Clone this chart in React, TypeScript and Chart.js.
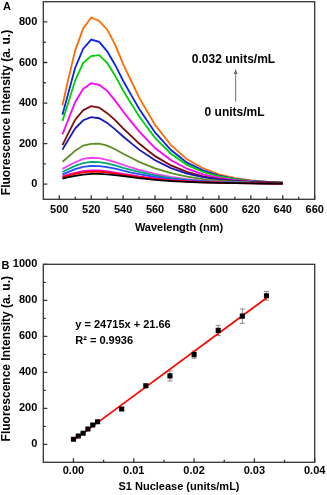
import React, { useEffect, useRef } from 'react';
import { Chart, registerables } from 'chart.js';

Chart.register(...registerables);

const FONT = "'Liberation Sans', Arial, Helvetica, sans-serif";

// ---------- Panel A: emission spectra ----------
const WAVELENGTH = [502, 505, 510, 515, 520, 525, 530, 535, 540, 545, 550, 560, 570, 580, 590, 600, 610, 620, 630, 640];
const SPEC_0 = [27, 33, 41, 47, 50, 50, 48, 44, 39, 34, 29, 21, 15, 11, 8, 6, 5, 4, 3, 3];
const SPEC_1 = [34, 40, 50, 58, 62, 61, 58, 52, 46, 40, 34, 25, 18, 13, 10, 7, 5, 4, 3, 3];
const SPEC_2 = [38, 45, 56, 64, 68, 67, 63, 57, 50, 44, 38, 28, 20, 15, 11, 8, 6, 5, 4, 3];
const SPEC_3 = [48, 58, 74, 85, 90, 89, 84, 76, 66, 57, 49, 35, 25, 18, 13, 9, 7, 5, 4, 3];
const SPEC_4 = [60, 72, 90, 104, 110, 108, 102, 92, 80, 70, 60, 43, 30, 21, 15, 11, 8, 6, 5, 4];
const SPEC_5 = [75, 88, 108, 124, 130, 128, 120, 108, 95, 82, 70, 50, 35, 25, 17, 12, 9, 6, 5, 4];
const SPEC_6 = [110, 130, 165, 190, 198, 200, 190, 172, 150, 130, 110, 78, 54, 37, 25, 17, 12, 8, 6, 5];
const SPEC_7 = [170, 210, 275, 315, 330, 325, 302, 270, 235, 202, 170, 118, 79, 52, 34, 22, 15, 10, 7, 5];
const SPEC_8 = [192, 240, 318, 365, 385, 378, 350, 316, 275, 238, 200, 138, 92, 60, 38, 25, 16, 11, 8, 6];
const SPEC_9 = [245, 305, 405, 470, 498, 490, 460, 412, 358, 308, 260, 178, 118, 76, 48, 31, 20, 13, 9, 6];
const SPEC_10 = [312, 385, 512, 598, 632, 636, 598, 535, 462, 398, 335, 228, 150, 95, 60, 38, 24, 15, 10, 7];
const SPEC_11 = [342, 430, 575, 668, 713, 702, 655, 588, 510, 440, 372, 255, 168, 106, 68, 42, 26, 16, 11, 7];
const SPEC_12 = [388, 495, 660, 768, 822, 805, 762, 688, 592, 510, 428, 292, 192, 122, 78, 48, 30, 18, 12, 8];
const SPECTRA = [SPEC_0, SPEC_1, SPEC_2, SPEC_3, SPEC_4, SPEC_5, SPEC_6, SPEC_7, SPEC_8, SPEC_9, SPEC_10, SPEC_11, SPEC_12];
const SPECTRA_COLORS = [
  '#000000', '#FF0000', '#FF00CC', '#2050FF', '#00A878', '#F040F0', '#5C8E22',
  '#1818B8', '#7A0A0A', '#FF00FF', '#00D000', '#0A24F0', '#FF6A00',
];

const A_X_LABELS = [500, 520, 540, 560, 580, 600, 620, 640, 660];
const A_X_MINOR = [510, 530, 550, 570, 590, 610, 630, 650];
const A_Y_LABELS = [0, 200, 400, 600, 800];
const A_Y_MINOR = [100, 300, 500, 700];

// ---------- Panel B: calibration ----------
const CONC = [0, 0.0008, 0.0016, 0.0024, 0.0032, 0.004, 0.008, 0.012, 0.016, 0.02, 0.024, 0.028, 0.032];
const INTENSITY = [28, 46, 61, 85, 107, 125, 196, 325, 380, 498, 633, 712, 825];
const INTENSITY_ERR = [4, 4, 4, 5, 5, 5, 7, 10, 28, 20, 28, 40, 24];
const FIT_X = [0, 0.032];
const FIT_Y = [21.66, 812.54];

const B_X_LABELS = [0, 0.01, 0.02, 0.03, 0.04];
const B_X_MINOR = [0.005, 0.015, 0.025, 0.035];
const B_Y_LABELS = [0, 200, 400, 600, 800, 1000];
const B_Y_MINOR = [100, 300, 500, 700, 900];

function drawFrameAndTicks(ctx: any, chart: any, xMajor: number[], xMinor: number[], yMajor: number[], yMinor: number[]) {
  const a = chart.chartArea;
  const xs = chart.scales.x;
  const ys = chart.scales.y;
  ctx.save();
  ctx.strokeStyle = '#333333';
  ctx.lineWidth = 1.3;
  ctx.beginPath();
  const tick = (vals: number[], len: number) => {
    vals.forEach((v) => {
      const px = xs.getPixelForValue(v);
      ctx.moveTo(px, a.bottom);
      ctx.lineTo(px, a.bottom - len);
    });
  };
  const ytick = (vals: number[], len: number) => {
    vals.forEach((v) => {
      const py = ys.getPixelForValue(v);
      ctx.moveTo(a.left, py);
      ctx.lineTo(a.left + len, py);
    });
  };
  tick(xMajor, 4);
  tick(xMinor, 2.5);
  ytick(yMajor, 4);
  ytick(yMinor, 2.5);
  ctx.stroke();
  ctx.strokeRect(a.left, a.top, a.right - a.left, a.bottom - a.top);
  ctx.restore();
}

function drawText(ctx: any, text: string, x: number, y: number, size: number, align: string = 'left', rot = 0) {
  ctx.save();
  ctx.fillStyle = '#000';
  ctx.font = `bold ${size}px ${FONT}`;
  ctx.textAlign = align;
  ctx.textBaseline = 'middle';
  ctx.translate(x, y);
  if (rot) ctx.rotate(rot);
  ctx.fillText(text, 0, 0);
  ctx.restore();
}

const panelAPlugin = {
  id: 'panelA',
  afterDraw(chart: any) {
    const { ctx } = chart;
    const xs = chart.scales.x;
    const ys = chart.scales.y;
    drawFrameAndTicks(ctx, chart, A_X_LABELS, A_X_MINOR, A_Y_LABELS, A_Y_MINOR);
    drawText(ctx, 'A', 7, 6.5, 11, 'center');
    drawText(ctx, 'Fluorescence Intensity (a. u.)', 7, 112.5, 12, 'center', -Math.PI / 2);
    drawText(ctx, '0.032 units/mL', xs.getPixelForValue(583), ys.getPixelForValue(612), 12);
    drawText(ctx, '0 units/mL', xs.getPixelForValue(591), ys.getPixelForValue(350), 12);
    // arrow
    const ax = xs.getPixelForValue(610.5);
    const y0 = ys.getPixelForValue(407);
    const y1 = ys.getPixelForValue(568);
    ctx.save();
    ctx.strokeStyle = '#707070';
    ctx.fillStyle = '#707070';
    ctx.lineWidth = 1;
    ctx.beginPath();
    ctx.moveTo(ax, y0);
    ctx.lineTo(ax, y1 + 4);
    ctx.stroke();
    ctx.beginPath();
    ctx.moveTo(ax, y1);
    ctx.lineTo(ax - 2, y1 + 5);
    ctx.lineTo(ax + 2, y1 + 5);
    ctx.closePath();
    ctx.fill();
    ctx.restore();
  },
};

const panelBPlugin = {
  id: 'panelB',
  beforeDatasetsDraw(chart: any) {
    const { ctx } = chart;
    const xs = chart.scales.x;
    const ys = chart.scales.y;
    ctx.save();
    ctx.strokeStyle = '#8a8a8a';
    ctx.lineWidth = 1;
    ctx.beginPath();
    CONC.forEach((c, i) => {
      const px = xs.getPixelForValue(c);
      const top = ys.getPixelForValue(INTENSITY[i] + INTENSITY_ERR[i]);
      const bot = ys.getPixelForValue(INTENSITY[i] - INTENSITY_ERR[i]);
      ctx.moveTo(px, top);
      ctx.lineTo(px, bot);
      ctx.moveTo(px - 2.5, top);
      ctx.lineTo(px + 2.5, top);
      ctx.moveTo(px - 2.5, bot);
      ctx.lineTo(px + 2.5, bot);
    });
    ctx.stroke();
    ctx.restore();
  },
  afterDraw(chart: any) {
    const { ctx } = chart;
    const xs = chart.scales.x;
    const ys = chart.scales.y;
    drawFrameAndTicks(ctx, chart, B_X_LABELS, B_X_MINOR, B_Y_LABELS, B_Y_MINOR);
    drawText(ctx, 'B', 5.5, 16, 11, 'center');
    drawText(ctx, 'Fluorescence Intensity (a. u.)', 7, 108.7, 12, 'center', -Math.PI / 2);
    drawText(ctx, 'y = 24715x + 21.66', xs.getPixelForValue(0.0003), ys.getPixelForValue(661), 11);
    drawText(ctx, 'R² = 0.9936', xs.getPixelForValue(0.0003), ys.getPixelForValue(574), 11);
  },
};

const tickFont = { family: FONT, size: 11, weight: 'bold' as const };
const titleFont = { family: FONT, size: 11, weight: 'bold' as const };

function fitY(width: number) {
  return (s: any) => {
    s.width = width;
    s.paddingTop = 0;
    s.paddingBottom = 0;
  };
}
function fitX(height: number) {
  return (s: any) => {
    s.height = height;
    s.paddingLeft = 0;
    s.paddingRight = 0;
  };
}

function PanelA() {
  const ref = useRef<HTMLCanvasElement>(null);
  useEffect(() => {
    const chart = new Chart(ref.current as HTMLCanvasElement, {
      type: 'line',
      data: {
        datasets: SPECTRA.map((s, i) => ({
          label: `c${i}`,
          data: WAVELENGTH.map((w, j) => ({ x: w, y: s[j] })),
          borderColor: SPECTRA_COLORS[i],
          borderWidth: 1.8,
          pointRadius: 0,
          tension: 0,
          fill: false,
        })),
      },
      options: {
        animation: false,
        responsive: false,
        layout: { padding: { left: 0, top: 1.7, right: 12.3, bottom: 0 } },
        plugins: { legend: { display: false }, tooltip: { enabled: false } },
        scales: {
          x: {
            type: 'linear',
            min: 490,
            max: 660,
            grid: { display: false, drawTicks: false },
            border: { display: false },
            afterBuildTicks: (s: any) => { s.ticks = A_X_LABELS.map((value) => ({ value })); },
            afterFit: fitX(50.7),
            ticks: { autoSkip: false, maxRotation: 0, padding: 4.1, color: '#000', font: tickFont, callback: (v: any) => String(v) },
            title: { display: true, text: 'Wavelength (nm)', color: '#000', font: titleFont, padding: { top: 0, bottom: 15.7 } },
          },
          y: {
            type: 'linear',
            min: -75,
            max: 900,
            grid: { display: false, drawTicks: false },
            border: { display: false },
            afterBuildTicks: (s: any) => { s.ticks = A_Y_LABELS.map((value) => ({ value })); },
            afterFit: fitY(43.3),
            ticks: { autoSkip: false, padding: 6, color: '#000', font: tickFont, callback: (v: any) => String(v) },
          },
        },
      },
      plugins: [panelAPlugin],
    } as any);
    return () => chart.destroy();
  }, []);
  return <canvas ref={ref} width={327} height={250} style={{ display: 'block', width: 327, height: 250 }} />;
}

function PanelB() {
  const ref = useRef<HTMLCanvasElement>(null);
  useEffect(() => {
    const chart = new Chart(ref.current as HTMLCanvasElement, {
      type: 'scatter',
      data: {
        datasets: [
          {
            label: 'fit',
            type: 'line',
            data: FIT_X.map((x, i) => ({ x, y: FIT_Y[i] })),
            borderColor: '#FF0000',
            borderWidth: 1.7,
            pointRadius: 0,
            showLine: true,
            fill: false,
            order: 2,
          },
          {
            label: 'data',
            data: CONC.map((x, i) => ({ x, y: INTENSITY[i] })),
            pointStyle: 'rect',
            pointRadius: 3.6,
            backgroundColor: '#000',
            borderColor: '#000',
            borderWidth: 0,
            order: 1,
          },
        ],
      },
      options: {
        animation: false,
        responsive: false,
        layout: { padding: { left: 0, top: 14.3, right: 12.3, bottom: 0 } },
        plugins: { legend: { display: false }, tooltip: { enabled: false } },
        scales: {
          x: {
            type: 'linear',
            min: -0.005,
            max: 0.04,
            grid: { display: false, drawTicks: false },
            border: { display: false },
            afterBuildTicks: (s: any) => { s.ticks = B_X_LABELS.map((value) => ({ value })); },
            afterFit: fitX(32.7),
            ticks: { autoSkip: false, maxRotation: 0, padding: 2.4, color: '#000', font: tickFont, callback: (v: any) => Number(v).toFixed(2) },
            title: { display: true, text: 'S1 Nuclease (units/mL)', color: '#000', font: titleFont, padding: { top: 0, bottom: 1.1 } },
          },
          y: {
            type: 'linear',
            min: -100,
            max: 1000,
            grid: { display: false, drawTicks: false },
            border: { display: false },
            afterBuildTicks: (s: any) => { s.ticks = B_Y_LABELS.map((value) => ({ value })); },
            afterFit: fitY(43.3),
            ticks: { autoSkip: false, padding: 6, color: '#000', font: tickFont, callback: (v: any) => String(v) },
          },
        },
      },
      plugins: [panelBPlugin],
    } as any);
    return () => chart.destroy();
  }, []);
  return <canvas ref={ref} width={327} height={245} style={{ display: 'block', width: 327, height: 245 }} />;
}

export default function App() {
  return (
    <div style={{ position: 'fixed', left: 0, top: 0, width: 327, height: 495, background: '#fff', overflow: 'hidden' }}>
      <PanelA />
      <PanelB />
    </div>
  );
}
